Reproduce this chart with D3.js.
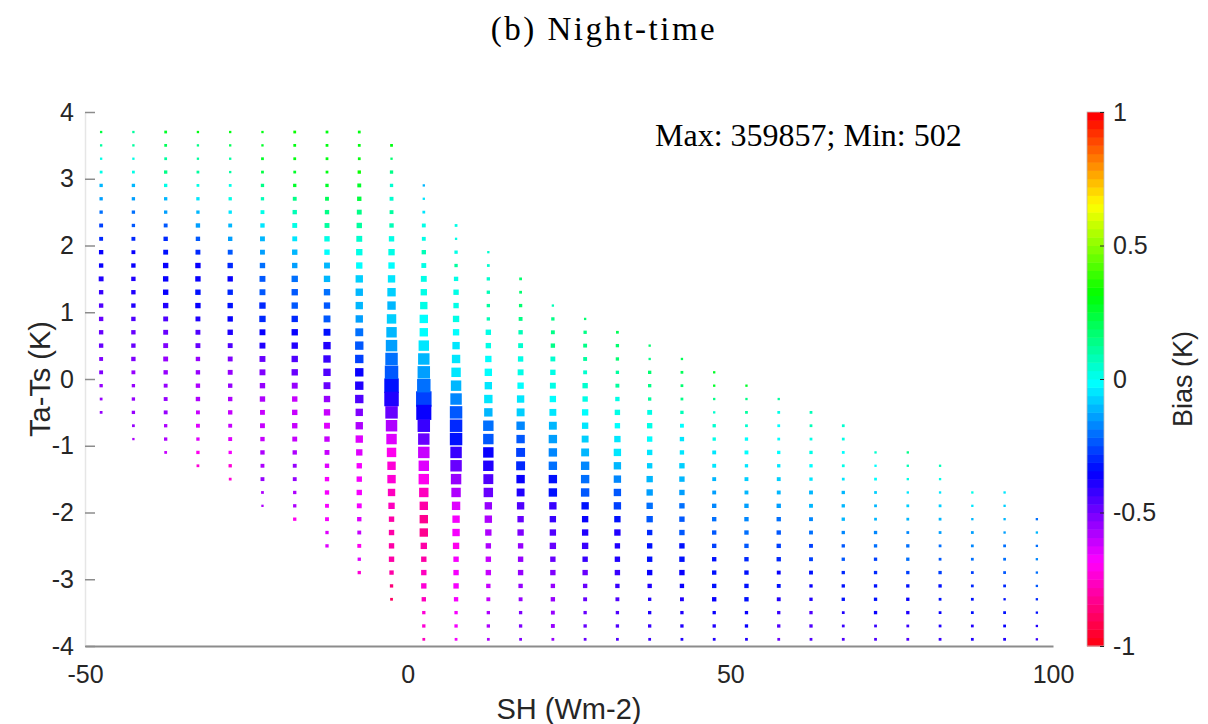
<!DOCTYPE html>
<html>
<head>
<meta charset="utf-8">
<script src="https://cdn.jsdelivr.net/npm/d3@7"></script>
<style>
  body { margin: 0; background: #fff; }
  svg { display: block; }
</style>
</head>
<body>
<svg id="vis" width="1208" height="724"></svg>
<script>
// SH bin centres (Wm-2), one per column
const SH_BINS = [-47.5, -42.5, -37.5, -32.5, -27.5, -22.5, -17.5, -12.5, -7.5, -2.5,
    2.5, 7.5, 12.5, 17.5, 22.5, 27.5, 32.5, 37.5, 42.5, 47.5,
    52.5, 57.5, 62.5, 67.5, 72.5, 77.5, 82.5, 87.5, 92.5, 97.5];

// Ta-Ts bin centres (K), top to bottom
const DT_BINS = [3.7, 3.5, 3.3, 3.1, 2.9, 2.7, 2.5, 2.3, 2.1, 1.9, 1.7, 1.5, 1.3, 1.1, 0.9, 0.7, 0.5, 0.3, 0.1,
    -0.1, -0.3, -0.5, -0.7, -0.9, -1.1, -1.3, -1.5, -1.7, -1.9, -2.1, -2.3, -2.5, -2.7, -2.9,
    -3.1, -3.3, -3.5, -3.7, -3.9];

// index into DT_BINS of the first (top) filled cell of each column
const FIRST_ROW = [0, 0, 0, 0, 0, 0, 0, 0, 0, 1, 4, 7, 9, 11, 13, 14, 15, 16, 17, 18,
    19, 20, 21, 22, 24, 24, 25, 27, 27, 29];

// mean bias (K) per cell, each column listed top to bottom
const BIAS = [
    [0.22,0.1,0.03,0.0,-0.1,-0.15,-0.2,-0.28,-0.3,-0.35,-0.35,-0.4,-0.42,-0.45,-0.47,-0.5,-0.5,-0.52,-0.52,-0.55,-0.55,-0.55],
    [0.1,0.1,0.0,0.0,-0.1,-0.15,-0.2,-0.25,-0.3,-0.35,-0.35,-0.38,-0.38,-0.38,-0.45,-0.5,-0.5,-0.52,-0.55,-0.55,-0.55,-0.55,-0.55,-0.58],
    [0.25,0.2,0.1,0.15,0.0,-0.1,-0.15,-0.25,-0.3,-0.33,-0.36,-0.36,-0.35,-0.38,-0.45,-0.5,-0.52,-0.55,-0.55,-0.55,-0.55,-0.55,-0.58,-0.58,-0.6],
    [0.3,0.15,0.1,0.1,0.0,-0.05,-0.1,-0.15,-0.22,-0.3,-0.35,-0.36,-0.33,-0.36,-0.4,-0.45,-0.5,-0.55,-0.55,-0.58,-0.58,-0.6,-0.65,-0.65,-0.7,-0.75],
    [0.3,0.2,0.12,0.1,0.02,0.0,-0.05,-0.1,-0.15,-0.25,-0.3,-0.35,-0.3,-0.32,-0.35,-0.4,-0.45,-0.52,-0.55,-0.55,-0.58,-0.6,-0.62,-0.65,-0.68,-0.72,-0.75],
    [0.3,0.28,0.25,0.22,0.15,0.08,0.0,-0.05,-0.1,-0.15,-0.2,-0.25,-0.25,-0.3,-0.3,-0.35,-0.4,-0.48,-0.52,-0.55,-0.58,-0.6,-0.6,-0.6,-0.58,-0.57,-0.56,-0.57,-0.58],
    [0.32,0.3,0.3,0.28,0.25,0.15,0.08,0.02,-0.05,-0.1,-0.15,-0.2,-0.22,-0.25,-0.3,-0.35,-0.4,-0.45,-0.5,-0.55,-0.6,-0.62,-0.62,-0.6,-0.57,-0.56,-0.56,-0.58,-0.58,-0.7],
    [0.3,0.3,0.3,0.3,0.28,0.2,0.15,0.1,0.02,-0.02,-0.1,-0.12,-0.2,-0.22,-0.25,-0.33,-0.38,-0.42,-0.45,-0.5,-0.55,-0.6,-0.63,-0.62,-0.6,-0.63,-0.67,-0.67,-0.68,-0.68,-0.63,-0.63],
    [0.3,0.3,0.3,0.32,0.28,0.22,0.15,0.12,0.05,0.0,-0.03,-0.08,-0.12,-0.12,-0.15,-0.2,-0.23,-0.28,-0.35,-0.4,-0.45,-0.53,-0.57,-0.63,-0.65,-0.67,-0.68,-0.68,-0.67,-0.64,-0.6,-0.7,-0.64,-0.72],
    [0.3,0.17,0.15,0.05,0.05,0.1,0.08,0.03,0.0,-0.02,-0.04,-0.07,-0.1,-0.08,-0.12,-0.15,-0.2,-0.25,-0.33,-0.4,-0.5,-0.58,-0.63,-0.7,-0.73,-0.74,-0.76,-0.78,-0.8,-0.8,-0.8,-0.8,-0.8,-0.85,-0.88],
    [-0.12,-0.05,-0.04,0.0,0.03,0.08,0.03,0.0,0.0,0.0,-0.02,-0.03,-0.06,-0.1,-0.15,-0.2,-0.28,-0.35,-0.42,-0.48,-0.6,-0.65,-0.7,-0.77,-0.8,-0.83,-0.83,-0.8,-0.8,-0.78,-0.75,-0.76,-0.72,-0.72,-0.78],
    [0.0,0.0,0.03,0.1,0.03,0.03,0.03,0.0,-0.02,-0.04,-0.05,-0.06,-0.1,-0.17,-0.23,-0.3,-0.33,-0.42,-0.49,-0.55,-0.57,-0.63,-0.67,-0.68,-0.7,-0.68,-0.68,-0.68,-0.67,-0.67,-0.67,-0.67],
    [0.05,0.05,0.05,0.08,0.1,0.08,0.03,0.03,-0.02,-0.02,-0.04,-0.05,-0.12,-0.2,-0.25,-0.35,-0.4,-0.46,-0.49,-0.55,-0.57,-0.58,-0.58,-0.6,-0.6,-0.6,-0.6,-0.58,-0.58,-0.57],
    [0.17,0.17,0.17,0.14,0.08,0.06,0.03,0.0,-0.02,-0.05,-0.09,-0.16,-0.22,-0.26,-0.31,-0.35,-0.4,-0.45,-0.5,-0.53,-0.55,-0.55,-0.55,-0.55,-0.55,-0.53,-0.53,-0.53],
    [0.08,0.15,0.13,0.13,0.05,0.0,0.0,-0.02,-0.05,-0.12,-0.15,-0.17,-0.2,-0.33,-0.33,-0.42,-0.43,-0.45,-0.48,-0.5,-0.53,-0.55,-0.55,-0.55,-0.55,-0.55],
    [0.17,0.15,0.13,0.1,0.05,0.05,0.03,-0.02,-0.04,-0.07,-0.12,-0.17,-0.2,-0.25,-0.33,-0.35,-0.4,-0.43,-0.43,-0.48,-0.5,-0.5,-0.5,-0.5,-0.5],
    [0.2,0.17,0.17,0.1,0.1,0.03,0.0,-0.02,-0.04,-0.05,-0.12,-0.17,-0.23,-0.28,-0.33,-0.38,-0.38,-0.4,-0.42,-0.43,-0.45,-0.45,-0.45,-0.45],
    [0.18,0.13,0.17,0.13,0.1,0.03,0.0,-0.02,-0.04,-0.07,-0.12,-0.15,-0.2,-0.25,-0.3,-0.33,-0.33,-0.35,-0.38,-0.4,-0.4,-0.42,-0.42],
    [0.2,0.2,0.17,0.15,0.08,-0.02,-0.04,-0.04,-0.07,-0.1,-0.15,-0.2,-0.23,-0.25,-0.33,-0.33,-0.35,-0.35,-0.38,-0.4,-0.4,-0.4],
    [0.25,0.25,0.13,0.05,0.05,0.03,-0.04,-0.05,-0.1,-0.15,-0.17,-0.2,-0.23,-0.28,-0.33,-0.33,-0.33,-0.35,-0.35,-0.38,-0.38],
    [0.25,0.13,0.1,0.05,-0.02,-0.02,-0.04,-0.07,-0.1,-0.15,-0.17,-0.2,-0.25,-0.3,-0.33,-0.33,-0.33,-0.35,-0.35,-0.38],
    [0.1,0.02,-0.02,-0.02,-0.02,-0.04,-0.07,-0.1,-0.15,-0.2,-0.23,-0.28,-0.3,-0.35,-0.32,-0.4,-0.43,-0.45,-0.5],
    [0.08,0.08,0.03,0.0,-0.02,-0.05,-0.12,-0.12,-0.17,-0.2,-0.28,-0.28,-0.33,-0.35,-0.38,-0.45,-0.45,-0.45],
    [0.05,0.03,-0.02,0.0,-0.05,-0.1,-0.1,-0.12,-0.17,-0.23,-0.23,-0.3,-0.33,-0.32,-0.38,-0.42,-0.45],
    [0.05,-0.02,-0.02,-0.07,-0.1,-0.12,-0.17,-0.2,-0.28,-0.3,-0.33,-0.32,-0.35,-0.42,-0.45],
    [0.13,0.08,0.0,-0.04,-0.07,-0.1,-0.17,-0.2,-0.2,-0.28,-0.32,-0.35,-0.4,-0.42,-0.45],
    [0.08,0.03,-0.04,-0.07,-0.1,-0.15,-0.2,-0.23,-0.28,-0.32,-0.33,-0.35,-0.4,-0.42],
    [0.0,-0.04,-0.1,-0.15,-0.17,-0.2,-0.28,-0.3,-0.33,-0.32,-0.38,-0.4],
    [-0.04,-0.07,-0.1,-0.15,-0.2,-0.2,-0.25,-0.3,-0.32,-0.33,-0.35,-0.4],
    [-0.2,-0.12,-0.2,-0.17,-0.2,-0.25,-0.3,-0.32,-0.4,-0.42]
];

// number of samples per cell (thousands), same layout as BIAS
const COUNTS = [
    [2,2,2,4,7.5,7.5,7.5,12,12,17,17,23,17,17,17,17,17,12,12,7.5,4,4],
    [2,2,2,4,7.5,7.5,7.5,7.5,12,12,17,17,17,17,17,17,17,17,12,7.5,7.5,7.5,4,2],
    [4,4,4,7.5,7.5,7.5,7.5,12,17,23,30,30,30,30,23,23,23,23,17,12,12,12,7.5,7.5,4],
    [2,2,2,4,4,7.5,7.5,17,17,23,30,30,30,30,23,23,23,17,17,17,17,12,12,7.5,7.5,4],
    [2,2,2,2,4,7.5,7.5,12,17,23,30,30,30,30,30,30,23,23,23,17,17,17,12,12,7.5,7.5,4],
    [2,2,4,4,7.5,7.5,12,17,23,23,30,38,38,46,46,38,38,38,38,30,30,23,23,17,17,12,12,4,2],
    [4,4,4,4,7.5,12,17,23,23,30,30,46,46,46,46,46,46,46,46,38,30,30,30,23,17,12,12,7.5,7.5,7.5],
    [4,4,4,4,7.5,12,17,23,30,30,38,46,46,46,56,56,66,66,66,56,46,46,38,30,23,17,17,17,12,12,7.5,7.5],
    [4,4,4,7.5,12,17,23,30,38,46,46,66,66,66,66,78,90,90,90,90,90,66,66,66,46,30,30,30,23,17,12,12,7.5,7.5],
    [4,2,7.5,7.5,12,12,17,30,46,46,66,90,90,118,149,184,222,264,310,310,222,184,149,118,90,90,66,46,30,30,30,30,17,7.5,4],
    [2,2,4,12,12,17,23,38,46,66,90,90,149,184,222,264,359.857,340,222,184,184,149,149,118,90,90,90,46,30,30,30,17,7.5,7.5,4],
    [4,2,7.5,7.5,17,30,30,46,46,66,90,118,149,184,222,222,222,184,184,149,118,90,66,66,46,30,30,30,17,7.5,7.5,4],
    [2,4,7.5,7.5,7.5,7.5,30,30,46,66,66,90,90,149,149,149,149,133,118,66,66,46,30,30,30,17,12,7.5,7.5,4],
    [4,4,7.5,12,17,23,30,38,46,66,78,90,90,104,104,90,78,66,46,46,30,30,30,17,12,7.5,7.5,4],
    [2,7.5,12,17,23,30,38,46,56,78,90,90,90,90,90,66,46,46,46,30,30,17,17,12,12,4],
    [2,7.5,12,12,12,30,30,46,46,56,78,90,90,90,66,46,46,46,30,30,17,12,7.5,7.5,4],
    [4,7.5,7.5,7.5,12,17,30,30,46,66,66,66,66,66,46,46,30,30,30,17,12,7.5,7.5,4],
    [2,2,7.5,7.5,7.5,23,30,30,30,30,46,46,46,46,30,30,30,30,17,7.5,7.5,7.5,4],
    [2,4,4,4,7.5,12,17,17,30,30,30,30,30,30,30,30,30,17,12,7.5,7.5,4],
    [2,2,2,2,7.5,7.5,12,12,12,12,17,17,17,17,17,17,17,17,7.5,7.5,4],
    [2,2,4,4,7.5,12,7.5,12,12,17,17,17,17,17,17,17,17,7.5,7.5,4],
    [2,4,4,4,7.5,7.5,12,12,17,17,17,17,17,12,12,12,7.5,7.5,4],
    [4,4,4,7.5,7.5,7.5,12,12,12,12,12,12,12,7.5,7.5,7.5,7.5,4],
    [4,4,4,4,4,7.5,7.5,7.5,7.5,7.5,7.5,7.5,7.5,7.5,4,4,4],
    [2,2,4,4,4,4,7.5,7.5,7.5,7.5,7.5,7.5,7.5,4,4],
    [2,2,2,2,4,4,4,7.5,7.5,7.5,7.5,7.5,7.5,4,4],
    [2,2,2,4,4,4,4,4,7.5,7.5,4,4,4,4],
    [2,2,2,4,4,4,4,4,4,4,4,4],
    [2,2,2,2,4,4,4,4,2,4,4,4],
    [2,2,2,2,2,2,2,2,2,2]
];

const MAX_COUNT = 359.857;
const MIN_COUNT = 0.502;

const X_TICKS = [-50, 0, 50, 100];
const Y_TICKS = [-4, -3, -2, -1, 0, 1, 2, 3, 4];
const CB_TICKS = [-1, -0.5, 0, 0.5, 1];

const TITLE = "(b) Night-time";
const NOTE = "Max: 359857; Min: 502";

const SANS = "'Liberation Sans', Arial, sans-serif";
const SERIF = "'Liberation Serif', 'Times New Roman', serif";

const PLOT = { left: 85, right: 1053, top: 112, bottom: 646 };
const CBAR = { left: 1087, width: 17 };

// plain hyphen for negatives, as in the original figure
function plainNumber(d) {
    return String(d);
}

window.onload = function () {
    let svg = d3.select("#vis");

    let xScale = d3.scaleLinear().domain([-50, 100]).range([PLOT.left, PLOT.right]);
    let yScale = d3.scaleLinear().domain([-4, 4]).range([PLOT.bottom, PLOT.top]);

    // flipped hsv colormap, 64 levels
    let cmap = d3.range(64).map(function (k) {
        return d3.hsl(360 * (63 - k) / 64, 1, 0.5).formatHex();
    });
    let colourScale = d3.scaleQuantize().domain([-1, 1]).range(cmap);

    let sizeScale = d3.scaleSqrt().domain([MIN_COUNT, MAX_COUNT]).range([1.8, 15.5]);

    let cells = [];
    SH_BINS.forEach(function (sh, i) {
        BIAS[i].forEach(function (b, j) {
            cells.push({ sh: sh, dt: DT_BINS[FIRST_ROW[i] + j], bias: b, n: COUNTS[i][j] });
        });
    });

    // draw smaller markers last so the big ones do not hide them
    cells.sort(function (a, b) { return b.n - a.n; });

    // y axis
    let yAxis = d3.axisLeft(yScale).tickValues(Y_TICKS).tickFormat(plainNumber)
        .tickSize(-10).tickSizeOuter(0).tickPadding(11);
    let gy = svg.append("g").attr("transform", "translate(" + PLOT.left + ",0)").call(yAxis);
    gy.select(".domain").attr("stroke", "#e6e6e6").attr("stroke-width", 1.5);
    gy.selectAll(".tick line").attr("stroke", "#8c8c8c").attr("stroke-width", 1.5);
    gy.selectAll(".tick text")
        .attr("font-family", SANS).attr("font-size", "25px").attr("fill", "#262626");

    svg.append("g").selectAll("rect")
        .data(cells)
        .enter()
        .append("rect")
        .attr("x", function (d) { return xScale(d.sh) - sizeScale(d.n) / 2; })
        .attr("y", function (d) { return yScale(d.dt) - sizeScale(d.n) / 2; })
        .attr("width", function (d) { return sizeScale(d.n); })
        .attr("height", function (d) { return sizeScale(d.n); })
        .style("fill", function (d) { return colourScale(d.bias); })
        .style("stroke", "none");

    // x axis
    let xAxis = d3.axisBottom(xScale).tickValues(X_TICKS).tickFormat(plainNumber)
        .tickSize(0).tickPadding(19);
    let gx = svg.append("g").attr("transform", "translate(0," + PLOT.bottom + ")").call(xAxis);
    gx.select(".domain").attr("stroke", "#8c8c8c").attr("stroke-width", 1.8);
    gx.selectAll(".tick text")
        .attr("font-family", SANS).attr("font-size", "25px").attr("fill", "#262626");

    // axis labels
    svg.append("text")
        .text("SH (Wm-2)")
        .attr("x", (PLOT.left + PLOT.right) / 2)
        .attr("y", 719)
        .attr("font-family", SANS).attr("font-size", "29px").attr("fill", "#262626")
        .style("text-anchor", "middle");

    svg.append("text")
        .text("Ta-Ts (K)")
        .attr("transform", "translate(50," + (PLOT.top + PLOT.bottom) / 2 + ") rotate(-90)")
        .attr("font-family", SANS).attr("font-size", "29px").attr("fill", "#262626")
        .style("text-anchor", "middle");

    // title and note
    svg.append("text")
        .text(TITLE)
        .attr("x", 604)
        .attr("y", 40)
        .attr("font-family", SERIF).attr("font-size", "33px").attr("fill", "#000")
        .attr("letter-spacing", "2.5px")
        .style("text-anchor", "middle");

    svg.append("text")
        .text(NOTE)
        .attr("x", 655)
        .attr("y", 146)
        .attr("font-family", SERIF).attr("font-size", "32px").attr("fill", "#000");

    // colorbar
    let cbScale = d3.scaleLinear().domain([-1, 1]).range([PLOT.bottom, PLOT.top]);
    let step = 2 / cmap.length;
    svg.append("g").selectAll("rect")
        .data(cmap)
        .enter()
        .append("rect")
        .attr("x", CBAR.left)
        .attr("width", CBAR.width)
        .attr("y", function (c, k) { return cbScale(-1 + (k + 1) * step); })
        .attr("height", function (c, k) { return cbScale(-1 + k * step) - cbScale(-1 + (k + 1) * step) + 0.5; })
        .style("fill", function (c) { return c; });

    svg.append("rect")
        .attr("x", CBAR.left).attr("y", PLOT.top)
        .attr("width", CBAR.width).attr("height", PLOT.bottom - PLOT.top)
        .style("fill", "none").style("stroke", "#bdbdbd").style("stroke-width", 0.8);

    let cbAxis = d3.axisRight(cbScale).tickValues(CB_TICKS).tickFormat(plainNumber)
        .tickSize(-4).tickSizeOuter(0).tickPadding(9);
    let gc = svg.append("g").attr("transform", "translate(" + (CBAR.left + CBAR.width) + ",0)").call(cbAxis);
    gc.select(".domain").remove();
    gc.selectAll(".tick line").attr("stroke", "#262626").attr("stroke-width", 1);
    gc.selectAll(".tick text")
        .attr("font-family", SANS).attr("font-size", "25px").attr("fill", "#262626");

    svg.append("text")
        .text("Bias (K)")
        .attr("transform", "translate(1192," + (PLOT.top + PLOT.bottom) / 2 + ") rotate(-90)")
        .attr("font-family", SANS).attr("font-size", "27px").attr("fill", "#262626")
        .style("text-anchor", "middle");
};
</script>
</body>
</html>
